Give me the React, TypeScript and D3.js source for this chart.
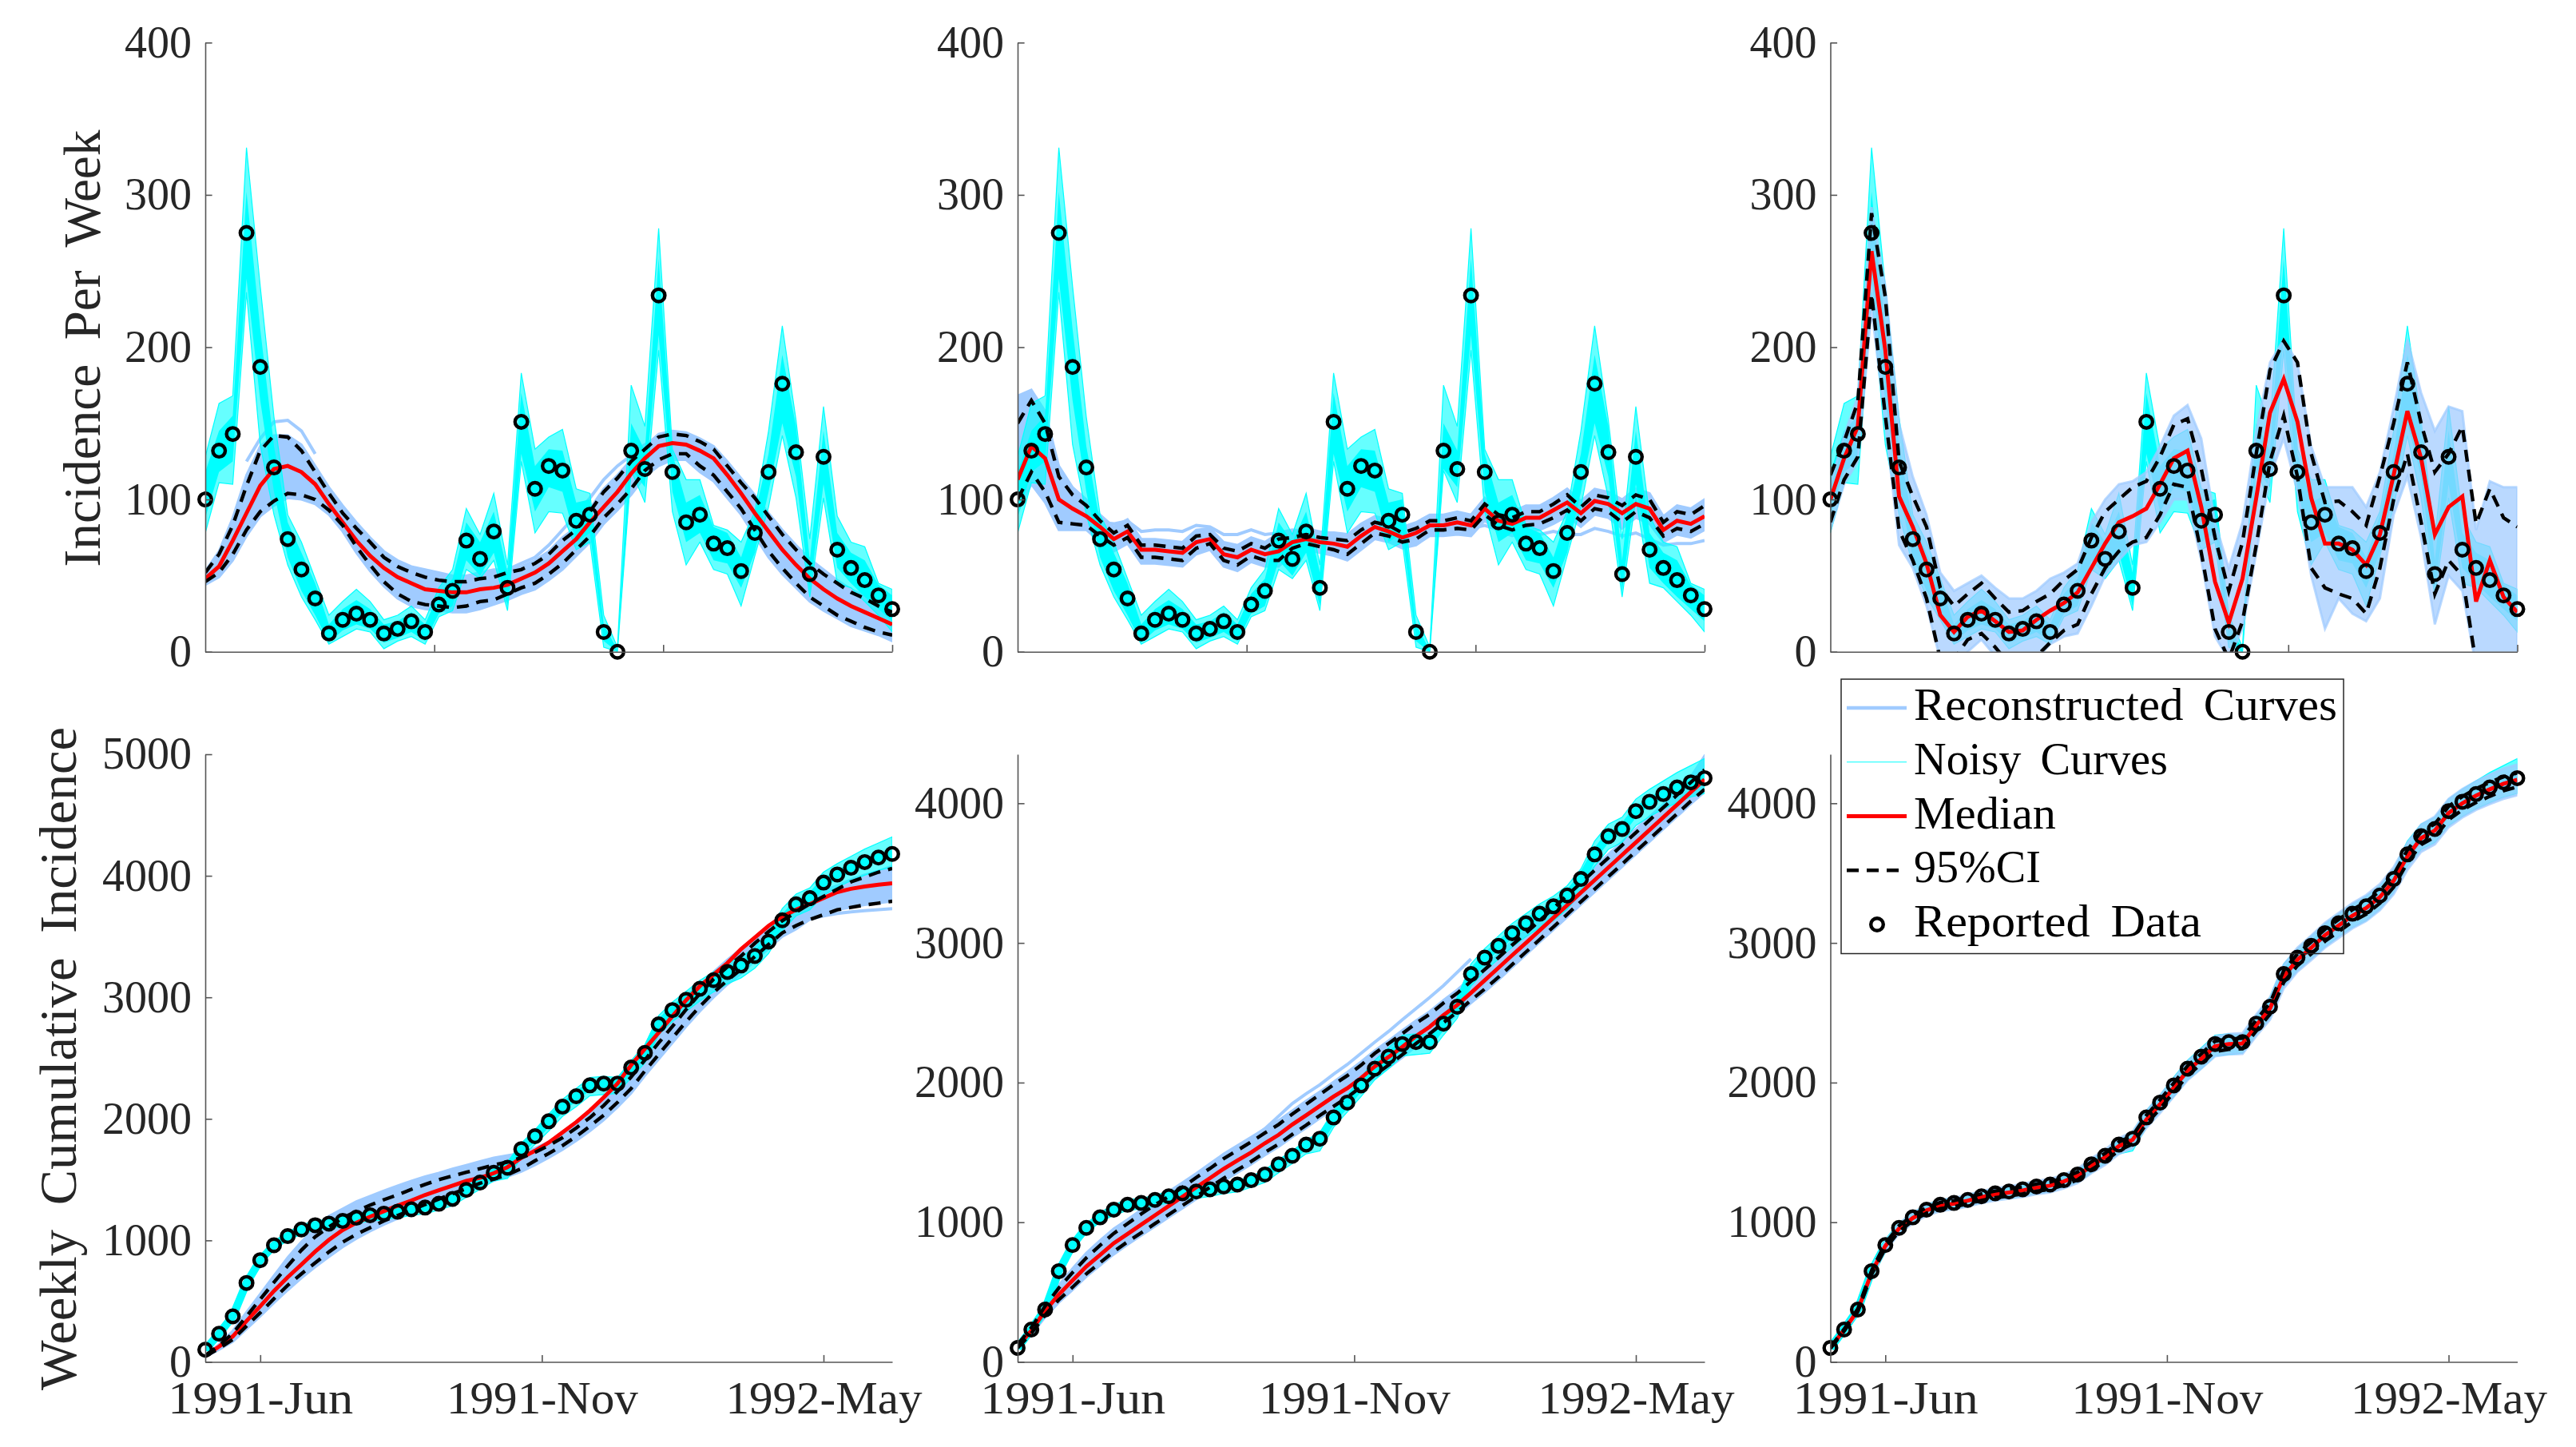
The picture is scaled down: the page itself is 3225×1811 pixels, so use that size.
import React, { useRef, useEffect } from 'react';
import * as d3 from 'd3';

// Weekly reported data (51 weeks)
const weeks = d3.range(51);
const reportedWeekly = [100, 132, 143, 275, 187, 121, 74, 54, 35, 12, 21, 25, 21, 12, 15, 20, 13, 31, 40, 73, 61, 79, 42, 151, 107, 122, 119, 86, 90, 13, 0, 132, 120, 234, 118, 85, 90, 71, 68, 53, 78, 118, 176, 131, 51, 128, 67, 55, 47, 37, 28];
const reportedCumulative = [100, 232, 375, 650, 837, 960, 1035, 1090, 1125, 1138, 1160, 1186, 1207, 1220, 1236, 1256, 1270, 1301, 1342, 1415, 1476, 1556, 1598, 1750, 1857, 1980, 2100, 2186, 2276, 2290, 2290, 2422, 2543, 2777, 2895, 2980, 3070, 3141, 3209, 3262, 3340, 3458, 3634, 3765, 3816, 3944, 4011, 4066, 4113, 4150, 4180];

// Noisy curve ensembles: outer range and dense core
const noiseHi = [128, 163, 168, 331, 240, 154, 90, 72, 48, 24, 33, 41, 33, 21, 24, 30, 21, 42, 54, 94, 77, 104, 57, 183, 133, 141, 146, 107, 104, 24, 3, 175, 148, 278, 133, 113, 113, 83, 80, 72, 92, 145, 214, 152, 74, 161, 89, 72, 69, 45, 41];
const noiseLo = [78, 111, 110, 236, 136, 90, 57, 36, 21, 5, 10, 15, 13, 2, 7, 10, 5, 23, 27, 54, 48, 60, 27, 125, 78, 92, 91, 67, 72, 3, 0, 119, 98, 198, 92, 57, 72, 54, 51, 30, 63, 95, 142, 101, 36, 101, 45, 42, 33, 24, 13];
const noiseCoreHi = [118, 145, 155, 302, 212, 135, 85, 65, 45, 18, 28, 34, 28, 18, 20, 26, 18, 38, 48, 85, 72, 92, 52, 170, 122, 133, 132, 98, 100, 18, 1, 150, 132, 258, 130, 98, 103, 82, 78, 62, 90, 130, 195, 148, 60, 145, 78, 65, 60, 44, 37];
const noiseCoreLo = [88, 118, 125, 245, 165, 105, 62, 40, 24, 6, 14, 18, 15, 6, 9, 13, 7, 25, 30, 60, 50, 65, 30, 130, 92, 108, 105, 72, 78, 7, 0, 120, 108, 208, 105, 72, 78, 60, 58, 42, 65, 105, 150, 115, 40, 110, 55, 45, 36, 28, 20];
const cumNoiseHi = [115, 250, 395, 675, 865, 990, 1070, 1125, 1165, 1170, 1195, 1220, 1240, 1250, 1265, 1285, 1300, 1330, 1375, 1450, 1510, 1590, 1640, 1800, 1910, 2040, 2160, 2250, 2340, 2350, 2340, 2480, 2610, 2850, 2960, 3050, 3140, 3210, 3280, 3335, 3410, 3530, 3730, 3850, 3900, 4030, 4100, 4160, 4220, 4270, 4320];
const cumNoiseLo = [85, 215, 355, 625, 810, 925, 1000, 1050, 1085, 1095, 1115, 1140, 1160, 1170, 1185, 1205, 1218, 1250, 1285, 1355, 1420, 1490, 1510, 1680, 1790, 1900, 2020, 2100, 2190, 2200, 2210, 2340, 2460, 2690, 2800, 2885, 2970, 3045, 3110, 3160, 3240, 3360, 3550, 3670, 3720, 3840, 3905, 3960, 4005, 4045, 4070];

// Top row fits
const fit1Median = [48, 56, 73, 91, 109, 120, 122, 118, 110, 97, 85, 73, 63, 55, 49, 45, 41, 40, 39, 39, 41, 42, 44, 48, 52, 58, 66, 74, 85, 95, 105, 117, 127, 135, 137, 136, 132, 127, 116, 104, 91, 79, 67, 57, 48, 41, 35, 30, 26, 22, 18];
const fit1CiHi = [52, 64, 83, 109, 132, 142, 141, 132, 118, 104, 91, 81, 72, 62, 56, 52, 49, 47, 46, 46, 48, 49, 52, 54, 58, 64, 73, 80, 92, 105, 114, 125, 133, 141, 143, 142, 138, 133, 122, 111, 101, 89, 77, 67, 58, 51, 45, 39, 35, 30, 26];
const fit1CiLo = [46, 52, 64, 80, 92, 99, 104, 103, 100, 93, 83, 69, 57, 46, 38, 33, 31, 30, 29, 30, 33, 34, 38, 42, 45, 51, 58, 67, 76, 88, 97, 107, 119, 126, 130, 130, 122, 116, 105, 94, 80, 66, 55, 45, 36, 30, 24, 20, 16, 13, 11];
const fit1BlueHi = [53, 66, 88, 116, 135, 142, 142, 136, 122, 108, 96, 85, 75, 66, 60, 56, 54, 52, 50, 50, 52, 54, 54, 56, 60, 66, 75, 82, 94, 107, 116, 126, 135, 143, 145, 144, 140, 135, 125, 114, 103, 91, 80, 70, 61, 54, 47, 41, 37, 32, 28];
const fit1BlueLo = [44, 49, 60, 76, 89, 96, 101, 100, 97, 90, 79, 65, 53, 43, 35, 30, 28, 27, 26, 26, 28, 31, 34, 38, 41, 47, 54, 63, 72, 84, 93, 103, 115, 122, 126, 126, 118, 112, 101, 90, 76, 62, 51, 42, 33, 27, 22, 17, 14, 11, 7];
const fit1Outlier = [125, 140, 151, 152, 145, 130];
const fit1OutlierB = [54, 58, 62, 70, 80, 90, 101, 113, 122, 129, 136, 140];

const fit2Median = [113, 135, 127, 100, 94, 89, 82, 74, 79, 67, 67, 66, 65, 72, 74, 64, 62, 67, 64, 66, 72, 74, 72, 71, 69, 76, 82, 79, 75, 78, 83, 83, 85, 83, 94, 86, 84, 88, 88, 93, 98, 91, 99, 97, 91, 97, 94, 80, 86, 84, 89];
const fit2CiHi = [150, 165, 150, 115, 103, 96, 86, 78, 83, 70, 70, 69, 68, 76, 77, 68, 66, 71, 68, 74, 75, 77, 75, 74, 73, 80, 85, 83, 78, 81, 86, 86, 88, 86, 97, 90, 88, 92, 92, 97, 103, 95, 103, 101, 96, 103, 100, 85, 92, 90, 96];
const fit2CiLo = [100, 118, 105, 85, 84, 83, 76, 70, 75, 62, 62, 61, 60, 68, 71, 60, 57, 63, 60, 60, 68, 71, 69, 67, 64, 71, 78, 76, 72, 74, 80, 80, 81, 80, 90, 83, 80, 83, 84, 88, 93, 86, 94, 92, 85, 92, 88, 76, 81, 79, 84];
const fit2BlueHi = [168, 172, 158, 122, 108, 100, 90, 82, 87, 74, 74, 73, 72, 80, 81, 72, 70, 75, 72, 78, 79, 81, 79, 78, 77, 84, 89, 87, 82, 85, 90, 90, 92, 90, 101, 94, 92, 96, 96, 101, 107, 99, 107, 105, 100, 107, 104, 89, 96, 94, 100];
const fit2BlueLo = [92, 110, 98, 80, 80, 80, 72, 66, 71, 58, 58, 57, 56, 64, 67, 56, 53, 59, 56, 56, 64, 67, 65, 63, 60, 67, 74, 72, 68, 70, 76, 76, 77, 76, 86, 79, 76, 79, 80, 84, 89, 82, 90, 88, 81, 88, 84, 72, 77, 75, 80];
const fit2Outlier = [85, 84, 86, 79, 80, 80, 79, 83, 82, 77, 77, 80, 77, 78, 80, 79, 78, 78, 77, 80];
const fit2OutlierB = [81, 83, 80, 77, 77, 77, 79, 77, 77, 81, 79, 76, 78, 74, 70, 71, 71, 73];

const fit3Median = [100, 127, 148, 263, 198, 102, 82, 58, 24, 13, 23, 27, 20, 13, 14, 21, 27, 32, 39, 55, 71, 85, 89, 94, 110, 127, 132, 95, 46, 19, 48, 101, 157, 179, 151, 101, 71, 71, 67, 57, 77, 116, 158, 127, 77, 95, 102, 33, 60, 36, 26];
const fit3CiHi = [116, 138, 164, 288, 233, 125, 102, 82, 42, 30, 38, 45, 35, 26, 27, 33, 38, 47, 54, 75, 92, 100, 108, 112, 128, 149, 153, 120, 75, 40, 72, 130, 185, 204, 190, 130, 98, 99, 92, 83, 115, 150, 190, 150, 118, 130, 148, 84, 107, 88, 82];
const fit3CiLo = [85, 113, 128, 235, 155, 80, 60, 35, -5, -5, 8, 12, 3, -8, -8, -3, 6, 14, 18, 38, 55, 66, 72, 75, 90, 110, 108, 65, 15, -5, 20, 70, 125, 155, 115, 55, 42, 38, 35, 25, 55, 100, 130, 85, 38, 60, 50, -8, -15, -20, -20];
const fit3BlueHi = [110, 142, 168, 292, 240, 150, 115, 90, 52, 40, 45, 50, 42, 35, 35, 40, 48, 52, 58, 85, 100, 110, 112, 118, 135, 155, 162, 140, 85, 55, 85, 145, 190, 205, 190, 135, 108, 108, 108, 95, 118, 160, 205, 170, 145, 161, 158, 80, 112, 108, 108];
const fit3BlueLo = [80, 110, 125, 225, 150, 70, 55, 30, -5, -10, 0, 8, -3, -10, -10, -5, 5, 10, 12, 30, 50, 60, 70, 72, 85, 100, 100, 60, 10, -5, 15, 65, 115, 140, 105, 50, 15, 35, 25, 20, 35, 90, 115, 75, 18, 50, 40, -10, -10, -10, -10];

// Bottom row fits
const cum1Median = [48, 126, 210, 336, 458, 584, 697, 801, 908, 1004, 1085, 1145, 1195, 1240, 1286, 1328, 1374, 1412, 1450, 1489, 1515, 1553, 1603, 1679, 1737, 1805, 1889, 1973, 2069, 2176, 2290, 2443, 2576, 2710, 2844, 2977, 3092, 3187, 3282, 3397, 3492, 3588, 3664, 3721, 3767, 3817, 3866, 3893, 3912, 3927, 3939];
const cum1CiHi = [52, 135, 235, 375, 515, 655, 790, 920, 1030, 1110, 1185, 1240, 1290, 1335, 1375, 1420, 1460, 1500, 1530, 1560, 1590, 1620, 1645, 1680, 1725, 1780, 1845, 1925, 2010, 2110, 2225, 2345, 2485, 2625, 2760, 2900, 3030, 3150, 3250, 3340, 3445, 3540, 3630, 3700, 3770, 3830, 3890, 3950, 3990, 4030, 4060];
const cum1CiLo = [45, 110, 185, 295, 405, 520, 630, 725, 815, 905, 985, 1050, 1105, 1160, 1205, 1250, 1295, 1340, 1385, 1425, 1470, 1505, 1540, 1590, 1655, 1715, 1780, 1855, 1940, 2030, 2135, 2250, 2395, 2530, 2665, 2800, 2925, 3040, 3140, 3230, 3335, 3435, 3530, 3590, 3640, 3680, 3720, 3740, 3760, 3775, 3790];
const cum1BlueHi = [55, 145, 255, 410, 560, 710, 860, 990, 1100, 1200, 1260, 1320, 1365, 1410, 1450, 1490, 1525, 1555, 1590, 1620, 1650, 1680, 1700, 1720, 1760, 1810, 1875, 1950, 2040, 2150, 2265, 2390, 2530, 2670, 2810, 2950, 3085, 3210, 3310, 3400, 3495, 3590, 3680, 3760, 3820, 3880, 3920, 3970, 4010, 4040, 4080];
const cum1BlueLo = [40, 100, 165, 270, 375, 485, 590, 690, 780, 865, 945, 1015, 1075, 1130, 1180, 1225, 1270, 1320, 1365, 1410, 1455, 1490, 1525, 1565, 1620, 1680, 1745, 1820, 1900, 1990, 2095, 2210, 2355, 2490, 2625, 2760, 2885, 3000, 3105, 3195, 3300, 3400, 3500, 3560, 3640, 3680, 3720, 3740, 3760, 3775, 3790];
const cum1Outlier = [3470, 3530, 3570, 3610, 3645, 3670, 3690, 3703, 3713, 3722, 3729];

const cum2Median = [113, 223, 366, 483, 583, 683, 766, 850, 916, 983, 1050, 1116, 1183, 1250, 1316, 1383, 1443, 1500, 1566, 1626, 1700, 1766, 1833, 1900, 1960, 2033, 2116, 2183, 2256, 2333, 2400, 2483, 2556, 2643, 2733, 2822, 2912, 3000, 3090, 3180, 3270, 3360, 3450, 3540, 3630, 3720, 3810, 3900, 3990, 4080, 4170];
const cum2CiHi = [125, 245, 400, 530, 640, 745, 835, 920, 990, 1060, 1125, 1185, 1250, 1320, 1385, 1455, 1515, 1575, 1640, 1700, 1775, 1845, 1915, 1985, 2050, 2125, 2210, 2280, 2350, 2425, 2490, 2570, 2640, 2725, 2810, 2895, 2985, 3070, 3160, 3250, 3340, 3430, 3520, 3610, 3700, 3790, 3880, 3970, 4060, 4150, 4240];
const cum2CiLo = [100, 205, 335, 445, 535, 630, 710, 790, 860, 925, 990, 1055, 1120, 1185, 1250, 1315, 1375, 1435, 1500, 1560, 1630, 1695, 1765, 1830, 1895, 1970, 2055, 2125, 2200, 2280, 2350, 2430, 2505, 2590, 2670, 2755, 2845, 2935, 3025, 3115, 3205, 3295, 3385, 3475, 3565, 3655, 3745, 3835, 3925, 4015, 4100];
const cum2BlueHi = [130, 255, 415, 550, 670, 780, 870, 955, 1020, 1090, 1155, 1220, 1285, 1350, 1420, 1490, 1550, 1610, 1670, 1730, 1800, 1870, 1935, 2005, 2075, 2150, 2230, 2300, 2375, 2445, 2510, 2590, 2665, 2750, 2835, 2920, 3010, 3095, 3185, 3275, 3365, 3455, 3545, 3635, 3725, 3815, 3905, 3995, 4090, 4190, 4340];
const cum2BlueLo = [95, 195, 320, 425, 515, 610, 690, 770, 840, 905, 970, 1035, 1100, 1165, 1230, 1295, 1355, 1415, 1480, 1540, 1610, 1675, 1745, 1810, 1875, 1950, 2035, 2105, 2180, 2260, 2330, 2410, 2485, 2570, 2650, 2735, 2825, 2915, 3005, 3095, 3185, 3275, 3365, 3455, 3545, 3635, 3725, 3815, 3905, 3995, 4080];
const cum2Outlier = [1600, 1670, 1760, 1850, 1920, 1985, 2060, 2130, 2210, 2290, 2366, 2450, 2530, 2610, 2695, 2790, 2885];

const cum3Median = [100, 228, 370, 640, 830, 955, 1030, 1085, 1120, 1133, 1155, 1180, 1200, 1213, 1228, 1248, 1262, 1292, 1332, 1405, 1465, 1545, 1590, 1735, 1845, 1965, 2085, 2170, 2260, 2275, 2280, 2410, 2530, 2760, 2880, 2965, 3055, 3125, 3195, 3250, 3328, 3445, 3620, 3750, 3805, 3930, 4000, 4055, 4100, 4140, 4168];
const cum3CiHi = [104, 235, 380, 655, 848, 975, 1050, 1105, 1142, 1155, 1178, 1204, 1224, 1238, 1253, 1274, 1288, 1318, 1360, 1433, 1494, 1575, 1620, 1766, 1877, 1998, 2120, 2206, 2297, 2312, 2318, 2450, 2570, 2802, 2922, 3008, 3098, 3168, 3238, 3294, 3372, 3490, 3665, 3796, 3852, 3978, 4048, 4104, 4150, 4190, 4218];
const cum3CiLo = [96, 221, 360, 625, 812, 935, 1010, 1065, 1098, 1111, 1132, 1156, 1176, 1188, 1203, 1222, 1236, 1266, 1304, 1377, 1436, 1515, 1560, 1704, 1813, 1932, 2050, 2134, 2223, 2238, 2242, 2370, 2490, 2718, 2838, 2922, 3012, 3082, 3152, 3206, 3284, 3400, 3575, 3704, 3758, 3882, 3952, 4006, 4050, 4090, 4118];
const cum3BlueHi = [108, 242, 392, 670, 865, 992, 1068, 1124, 1160, 1174, 1197, 1223, 1244, 1258, 1274, 1296, 1310, 1341, 1384, 1458, 1520, 1602, 1648, 1795, 1908, 2030, 2153, 2240, 2332, 2348, 2354, 2488, 2610, 2845, 2966, 3053, 3144, 3215, 3286, 3343, 3422, 3541, 3717, 3848, 3905, 4032, 4102, 4158, 4206, 4248, 4278];
const cum3BlueLo = [92, 214, 348, 610, 795, 918, 992, 1046, 1080, 1092, 1113, 1137, 1156, 1168, 1182, 1200, 1214, 1243, 1280, 1352, 1410, 1488, 1532, 1675, 1782, 1900, 2017, 2100, 2188, 2202, 2206, 2332, 2450, 2675, 2794, 2877, 2966, 3035, 3104, 3157, 3234, 3349, 3523, 3652, 3705, 3828, 3898, 3952, 3994, 4032, 4058];

// Tick labels
const topXTicks = [16.67, 33.33, 50];
const bottomXTicks = [4, 24.5, 45];
const bottomXLabels = ['1991-Jun', '1991-Nov', '1992-May'];
const bottomXLabelLengths = [232, 240, 246];
const weeklyTicks = [0, 100, 200, 300, 400];
const cumTicks1 = [0, 1000, 2000, 3000, 4000, 5000];
const cumTicks2 = [0, 1000, 2000, 3000, 4000];

const legendLabels = ['Reconstructed Curves', 'Noisy Curves', 'Median', '95%CI', 'Reported Data'];
const legendLengths = [530, 318, 178, 159, 360];

const BLUE = '#a0cbff';
const CYAN = '#00ffff';
const RED = '#ff0000';
const FONT = '"Liberation Serif", serif';
const INK = '#262626';

const colLeft = [257, 1274, 2291.5];
const plotW = 860;
const rowTop = [53.3, 944];
const rowBottom = [815.7, 1704.5];

interface Outlier { from: number; values: number[] }
interface Panel {
  row: number; col: number; yMax: number; yTicks: number[];
  data: number[]; median: number[]; ciHi: number[]; ciLo: number[];
  blueHi: number[]; blueLo: number[]; outliers: Outlier[];
  blueOnTop?: boolean;
}

const panels: Panel[] = [
  { row: 0, col: 0, yMax: 400, yTicks: weeklyTicks, data: reportedWeekly, median: fit1Median, ciHi: fit1CiHi, ciLo: fit1CiLo, blueHi: fit1BlueHi, blueLo: fit1BlueLo, outliers: [{ from: 3, values: fit1Outlier }, { from: 22, values: fit1OutlierB }] },
  { row: 0, col: 1, yMax: 400, yTicks: weeklyTicks, data: reportedWeekly, median: fit2Median, ciHi: fit2CiHi, ciLo: fit2CiLo, blueHi: fit2BlueHi, blueLo: fit2BlueLo, outliers: [{ from: 6, values: fit2Outlier }, { from: 33, values: fit2OutlierB }] },
  { row: 0, col: 2, yMax: 400, yTicks: weeklyTicks, data: reportedWeekly, median: fit3Median, ciHi: fit3CiHi, ciLo: fit3CiLo, blueHi: fit3BlueHi, blueLo: fit3BlueLo, outliers: [], blueOnTop: true },
  { row: 1, col: 0, yMax: 5000, yTicks: cumTicks1, data: reportedCumulative, median: cum1Median, ciHi: cum1CiHi, ciLo: cum1CiLo, blueHi: cum1BlueHi, blueLo: cum1BlueLo, outliers: [{ from: 40, values: cum1Outlier }] },
  { row: 1, col: 1, yMax: 4351, yTicks: cumTicks2, data: reportedCumulative, median: cum2Median, ciHi: cum2CiHi, ciLo: cum2CiLo, blueHi: cum2BlueHi, blueLo: cum2BlueLo, outliers: [{ from: 17, values: cum2Outlier }] },
  { row: 1, col: 2, yMax: 4351, yTicks: cumTicks2, data: reportedCumulative, median: cum3Median, ciHi: cum3CiHi, ciLo: cum3CiLo, blueHi: cum3BlueHi, blueLo: cum3BlueLo, outliers: [], blueOnTop: true },
];

export default function App() {
  const svgRef = useRef<SVGSVGElement>(null);

  useEffect(() => {
    if (!svgRef.current) return;
    const svg = d3.select(svgRef.current);
    svg.selectAll('*').remove();

    panels.forEach((p, idx) => {
      const left = colLeft[p.col];
      const top = rowTop[p.row];
      const bottom = rowBottom[p.row];
      const x = d3.scaleLinear().domain([0, 50]).range([left, left + plotW]);
      const y = d3.scaleLinear().domain([0, p.yMax]).range([bottom, top]);

      const clipId = `clip-${idx}`;
      svg.append('clipPath').attr('id', clipId).append('rect')
        .attr('x', left).attr('y', top).attr('width', plotW).attr('height', bottom - top);
      const g = svg.append('g').attr('clip-path', `url(#${clipId})`);

      const line = d3.line<number>().x((_, i) => x(weeks[i])).y(d => y(d));
      const band = (hi: number[], lo: number[]) =>
        d3.area<number>().x(i => x(i)).y0(i => y(lo[i])).y1(i => y(hi[i]))(weeks) as string;

      const drawBlue = (opacity: number) => {
        g.append('path').attr('d', band(p.blueHi, p.blueLo))
          .attr('fill', BLUE).attr('fill-opacity', opacity)
          .attr('stroke', BLUE).attr('stroke-opacity', opacity).attr('stroke-width', 3);
        p.outliers.forEach(o => {
          const l = d3.line<number>().x((_, i) => x(o.from + i)).y(d => y(d));
          g.append('path').attr('d', l(o.values) as string)
            .attr('fill', 'none').attr('stroke', BLUE).attr('stroke-width', 4);
        });
      };

      const drawCyan = () => {
        if (p.row === 0) {
          g.append('path').attr('d', band(noiseHi, noiseLo))
            .attr('fill', CYAN).attr('fill-opacity', 0.6)
            .attr('stroke', CYAN).attr('stroke-width', 1.2);
          g.append('path').attr('d', band(noiseCoreHi, noiseCoreLo)).attr('fill', CYAN);
        } else {
          g.append('path').attr('d', band(cumNoiseHi, cumNoiseLo))
            .attr('fill', CYAN).attr('fill-opacity', 0.6)
            .attr('stroke', CYAN).attr('stroke-width', 1.2);
          g.append('path').attr('d', line(p.data) as string)
            .attr('fill', 'none').attr('stroke', CYAN).attr('stroke-width', 10);
        }
      };

      if (p.blueOnTop) {
        drawCyan();
        drawBlue(0.72);
      } else {
        drawBlue(1);
        drawCyan();
      }

      g.append('path').attr('d', line(p.median) as string)
        .attr('fill', 'none').attr('stroke', RED).attr('stroke-width', 5);
      [p.ciHi, p.ciLo].forEach(ci => {
        g.append('path').attr('d', line(ci) as string)
          .attr('fill', 'none').attr('stroke', '#000').attr('stroke-width', 4.4)
          .attr('stroke-dasharray', '15 10');
      });

      // Circles are not clipped and have no fill
      svg.append('g').selectAll('circle').data(p.data).join('circle')
        .attr('cx', (_, i) => x(weeks[i])).attr('cy', d => y(d)).attr('r', 7.8)
        .attr('fill', 'none').attr('stroke', '#000').attr('stroke-width', 4.4);

      // Axes
      const yAxis = d3.axisLeft(y).tickValues(p.yTicks).tickFormat(d3.format('d') as any)
        .tickSizeInner(-8.6).tickSizeOuter(0).tickPadding(17);
      const xAxis = d3.axisBottom(x)
        .tickValues(p.row === 0 ? topXTicks : bottomXTicks)
        .tickFormat((_, i) => (p.row === 0 ? '' : bottomXLabels[i]))
        .tickSizeInner(-8.6).tickSizeOuter(0).tickPadding(24.5);
      const gy = svg.append('g').attr('transform', `translate(${left},0)`).call(yAxis);
      const gx = svg.append('g').attr('transform', `translate(0,${bottom})`).call(xAxis);
      [gx, gy].forEach(a => {
        a.selectAll('path,line').attr('stroke', '#555').attr('stroke-width', 1.6);
        a.selectAll('text').attr('fill', INK).attr('font-family', FONT).attr('font-size', 56);
      });
      if (p.row === 1) {
        gx.selectAll('text').attr('textLength', (_, i) => bottomXLabelLengths[i]).attr('lengthAdjust', 'spacingAndGlyphs');
      }
    });

    // Axis titles
    const yTitle = (label: string, xPos: number, yPos: number, len: number) => {
      svg.append('text').attr('transform', `translate(${xPos},${yPos}) rotate(-90)`)
        .attr('text-anchor', 'middle').attr('font-family', FONT).attr('font-size', 66)
        .attr('word-spacing', 14)
        .attr('fill', INK).attr('textLength', len).attr('lengthAdjust', 'spacingAndGlyphs')
        .text(label);
    };
    yTitle('Incidence Per Week', 125, 436, 547);
    yTitle('Weekly Cumulative Incidence', 95, 1325, 830);

    // Legend
    const legend = svg.append('g');
    legend.append('rect').attr('x', 2305).attr('y', 850).attr('width', 629).attr('height', 343.5)
      .attr('fill', 'none').attr('stroke', INK).attr('stroke-width', 1.5);
    const rowY = d3.scalePoint<number>().domain(d3.range(legendLabels.length)).range([883, 1154]);
    legendLabels.forEach((label, i) => {
      const ly = rowY(i) as number;
      const handle = legend.append('line').attr('x1', 2312).attr('x2', 2387).attr('y1', ly + 3).attr('y2', ly + 3);
      if (i === 0) handle.attr('stroke', BLUE).attr('stroke-width', 4.5);
      if (i === 1) handle.attr('stroke', CYAN).attr('stroke-width', 1.2);
      if (i === 2) handle.attr('stroke', RED).attr('stroke-width', 5);
      if (i === 3) handle.attr('stroke', '#000').attr('stroke-width', 4.4).attr('stroke-dasharray', '15 10');
      if (i === 4) {
        handle.remove();
        legend.append('circle').attr('cx', 2350).attr('cy', ly + 3).attr('r', 7.8)
          .attr('fill', 'none').attr('stroke', '#000').attr('stroke-width', 4.4);
      }
      legend.append('text').attr('x', 2396).attr('y', ly + 18)
        .attr('font-family', FONT).attr('font-size', 56).attr('fill', '#000')
        .attr('word-spacing', 10)
        .attr('textLength', legendLengths[i]).attr('lengthAdjust', 'spacingAndGlyphs')
        .text(label);
    });
  }, []);

  return (
    <svg
      ref={svgRef}
      width={3225}
      height={1811}
      viewBox="0 0 3225 1811"
      style={{ position: 'absolute', left: 0, top: 0, display: 'block', background: '#fff' }}
    />
  );
}
